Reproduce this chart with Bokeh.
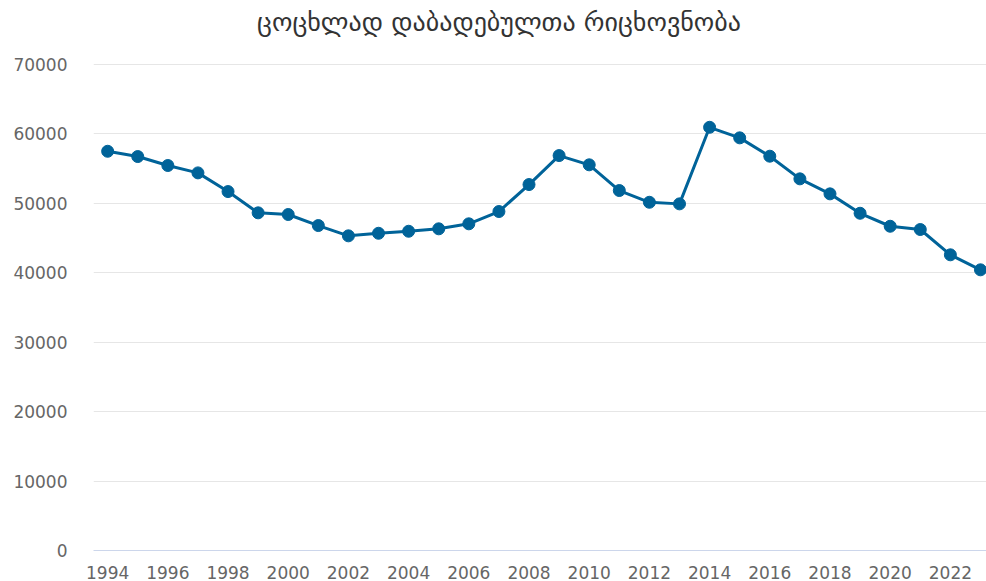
from bokeh.plotting import figure
from bokeh.models import Range1d, FixedTicker, ColumnDataSource, Div
from bokeh.layouts import column
from bokeh.embed import file_html
from bokeh.resources import INLINE

years = list(range(1994, 2024))
births = [57450, 56690, 55400, 54340, 51650, 48590, 48350, 46760, 45280, 45650,
          45940, 46290, 47010, 48780, 52660, 56830, 55500, 51800, 50110, 49880,
          60900, 59380, 56740, 53480, 51320, 48530, 46660, 46190, 42550, 40390]
x_ticks = list(range(1994, 2023, 2))
y_ticks = [0, 10000, 20000, 30000, 40000, 50000, 60000, 70000]
title_text = "ცოცხლად დაბადებულთა რიცხოვნობა"

COLOR = "#006399"
LABEL = "#666666"

src = ColumnDataSource(data=dict(year=years, births=births))

TITLE_H = 44
title = Div(text=title_text, width=986, height=TITLE_H, margin=(0, 0, 0, 0),
            styles={"font-family": "DejaVu Sans", "font-size": "26px",
                    "color": "#333333", "text-align": "center",
                    "line-height": f"{TITLE_H}px", "width": "986px",
                    "padding-left": "12px", "box-sizing": "border-box",
                    "white-space": "nowrap"})

p = figure(width=986, height=581 - TITLE_H, output_backend="svg", toolbar_location=None,
           x_range=Range1d(1993.53, 2023.2), y_range=Range1d(0, 70080),
           min_border_left=93, min_border_right=0, min_border_top=63 - TITLE_H,
           min_border_bottom=31, margin=(0, 0, 0, 0))
p.outline_line_color = None

p.line("year", "births", source=src, line_color=COLOR, line_width=3)
p.scatter("year", "births", source=src, size=12, fill_color=COLOR, line_color=COLOR)

p.xgrid.grid_line_color = None
p.ygrid.grid_line_color = "#e6e6e6"
p.ygrid.grid_line_width = 1

p.xaxis.ticker = FixedTicker(ticks=x_ticks)
p.yaxis.ticker = FixedTicker(ticks=y_ticks)
p.xaxis.axis_line_color = "#ccd6eb"
p.xaxis.major_tick_line_color = None
p.xaxis.minor_tick_line_color = None
p.xaxis.major_tick_out = 0
p.xaxis.major_label_standoff = 15
p.yaxis.axis_line_color = None
p.yaxis.major_tick_line_color = None
p.yaxis.minor_tick_line_color = None
p.yaxis.major_tick_out = 0
p.yaxis.major_label_standoff = 26
for ax in (p.xaxis, p.yaxis):
    ax.major_label_text_font = "DejaVu Sans"
    ax.major_label_text_font_size = "17px"
    ax.major_label_text_color = LABEL

layout = column(title, p, spacing=0, margin=(0, 0, 0, 0))
open("out.html", "w").write(file_html(layout, INLINE))
